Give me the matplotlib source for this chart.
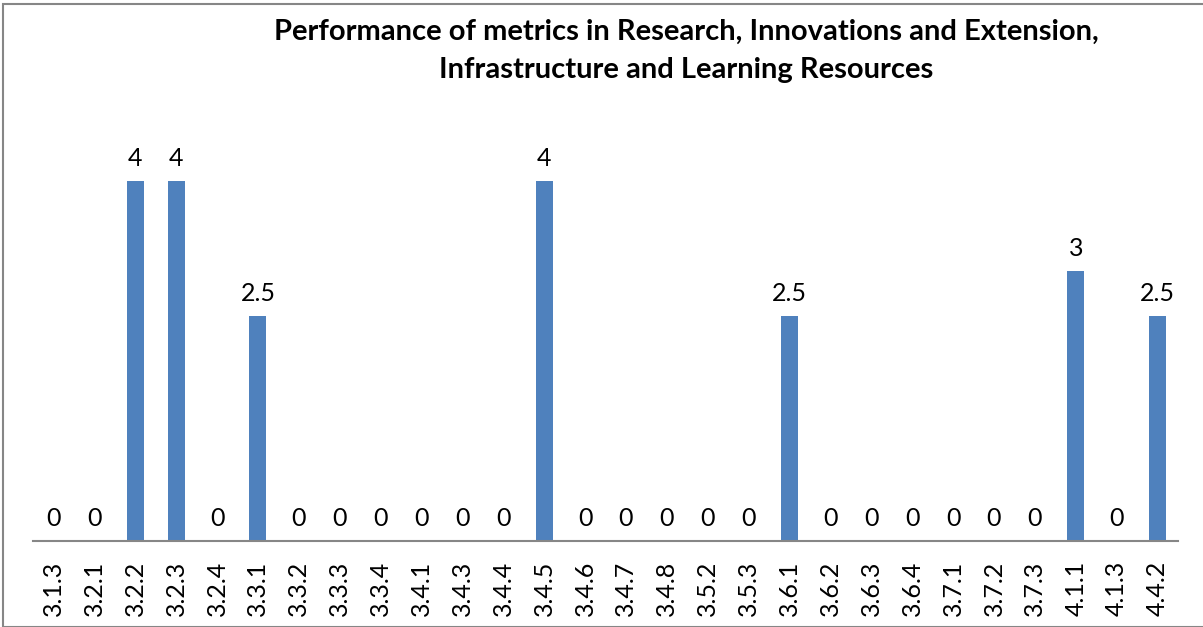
import matplotlib.pyplot as plt
from matplotlib.patches import Rectangle

metrics = ["3.1.3", "3.2.1", "3.2.2", "3.2.3", "3.2.4", "3.3.1", "3.3.2", "3.3.3",
           "3.3.4", "3.4.1", "3.4.3", "3.4.4", "3.4.5", "3.4.6", "3.4.7", "3.4.8",
           "3.5.2", "3.5.3", "3.6.1", "3.6.2", "3.6.3", "3.6.4", "3.7.1", "3.7.2",
           "3.7.3", "4.1.1", "4.1.3", "4.4.2"]
scores = [0, 0, 4, 4, 0, 2.5, 0, 0, 0, 0, 0, 0, 4, 0, 0, 0, 0, 0, 2.5, 0, 0, 0,
          0, 0, 0, 3, 0, 2.5]

plt.rcParams["font.family"] = ["Lato", "DejaVu Sans"]

fig = plt.figure(figsize=(12.03, 6.27), dpi=100)
ax = fig.add_axes([33 / 1203, 86 / 627, 1145 / 1203, 405 / 627])

x = range(len(metrics))
ax.bar(x, scores, width=0.42, color="#4F81BD")
for xi, v in zip(x, scores):
    ax.text(xi, v + 0.12, f"{v:g}", ha="center", va="bottom", fontsize=18)

ax.set_xlim(-0.5, len(metrics) - 0.5)
ax.set_ylim(0, 4.5)
ax.set_xticks(list(x))
ax.set_xticklabels(metrics, rotation=90, fontsize=18)
ax.tick_params(axis="x", length=0, pad=14)
ax.set_yticks([])
for side in ["top", "left", "right"]:
    ax.spines[side].set_visible(False)
ax.spines["bottom"].set_color("#868686")
ax.spines["bottom"].set_linewidth(1.5)

fig.text(686 / 1203, 1 - 51 / 627,
         "Performance of metrics in Research, Innovations and Extension,\n"
         "Infrastructure and Learning Resources",
         ha="center", va="center", fontsize=21, fontweight="bold", linespacing=1.6)

fig.patches.append(Rectangle((3 / 1203, 0), 1.2, 1 - 4 / 627, transform=fig.transFigure,
                             fill=False, edgecolor="#868686", linewidth=1.5))

fig.savefig("out.png", dpi=100)
